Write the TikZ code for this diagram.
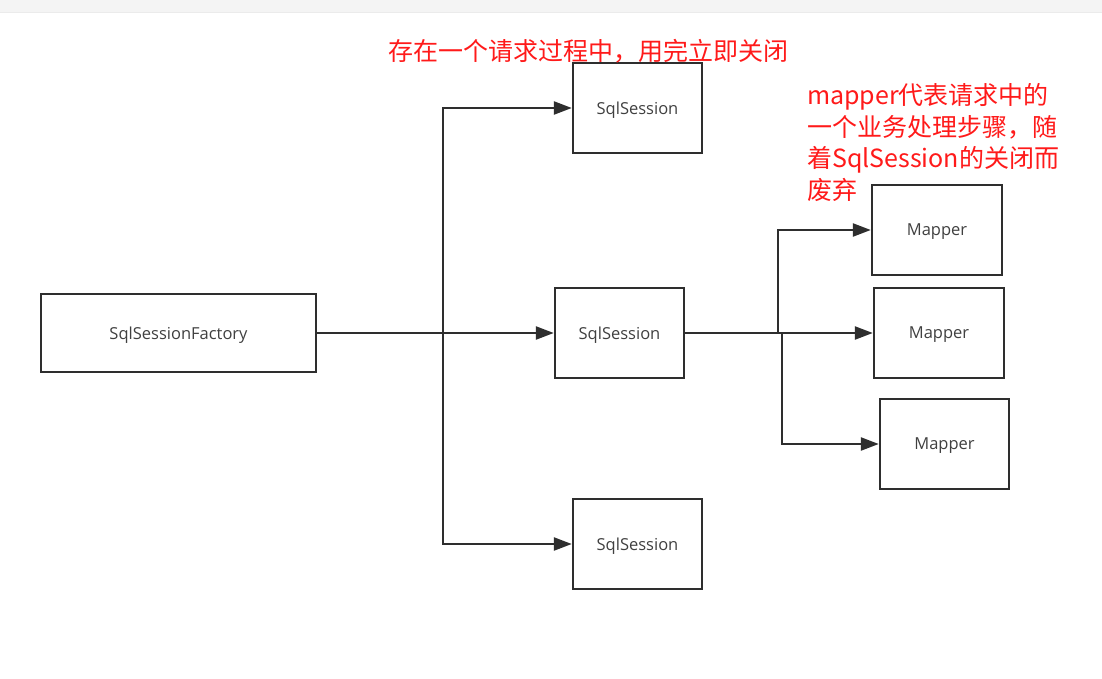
\documentclass[tikz,border=0pt]{standalone}
\usepackage{fontspec}
\newfontfamily\cjk{Noto Sans CJK SC}
\newfontfamily\lblfont{Open Sans}
\usetikzlibrary{arrows.meta}
\definecolor{ln}{HTML}{2E2E2E}
\definecolor{txt}{HTML}{404040}
\definecolor{band}{HTML}{F4F4F4}
\definecolor{note}{HTML}{FF1A1A}
\tikzset{
  box/.style={draw=ln, line width=2.4pt, rectangle, inner sep=0pt, text=txt, text depth=0pt,
    font=\lblfont\fontsize{16.5}{19}\selectfont},
  conn/.style={draw=ln, line width=2.4pt},
  arr/.style={conn, -{Triangle[length=18pt,width=13pt]}},
  notetext/.style={text=note, inner sep=0pt, font=\cjk\fontsize{25}{31.7}\selectfont}
}
\begin{document}
\begin{tikzpicture}[x=1pt,y=-1pt]
\fill[white] (0,0) rectangle (1102,678);
\useasboundingbox (0,0) rectangle (1102,678);
\fill[band] (0,0) rectangle (1102,12.5);
\draw[black!8, line width=0.5pt] (0,12.5) -- (1102,12.5);

\node[box, minimum width=275pt, minimum height=78pt] (f) at (178.5,333) {SqlSessionFactory};
\node[box, minimum width=129pt, minimum height=90pt] (s1) at (637.5,108) {SqlSession};
\node[box, minimum width=129pt, minimum height=90pt] (s2) at (619.5,333) {SqlSession};
\node[box, minimum width=129pt, minimum height=90pt] (s3) at (637.5,544) {SqlSession};
\node[box, minimum width=130pt, minimum height=90pt] (m1) at (937,230) {Mapper};
\node[box, minimum width=130pt, minimum height=90pt] (m2) at (939,333) {Mapper};
\node[box, minimum width=129pt, minimum height=90pt] (m3) at (944.5,444) {Mapper};

\coordinate (t) at (443,333);
\coordinate (j1) at (778,333);
\coordinate (j2) at (782,333);

\draw[arr] (f.east) -- (s2.west);
\draw[arr] (t) |- (s1.west);
\draw[arr] (t) |- (s3.west);
\draw[arr] (s2.east) -- (m2.west);
\draw[arr] (j1) |- (m1.west);
\draw[arr] (j2) |- (m3.west);

\node[notetext] (n1) at (588,51) {存在一个请求过程中，用完立即关闭};
\node[notetext, align=left, anchor=west] (n2) at (807,142.5) {mapper代表请求中的\\一个业务处理步骤，随\\着SqlSession的关闭而\\废弃};
\end{tikzpicture}
\end{document}
